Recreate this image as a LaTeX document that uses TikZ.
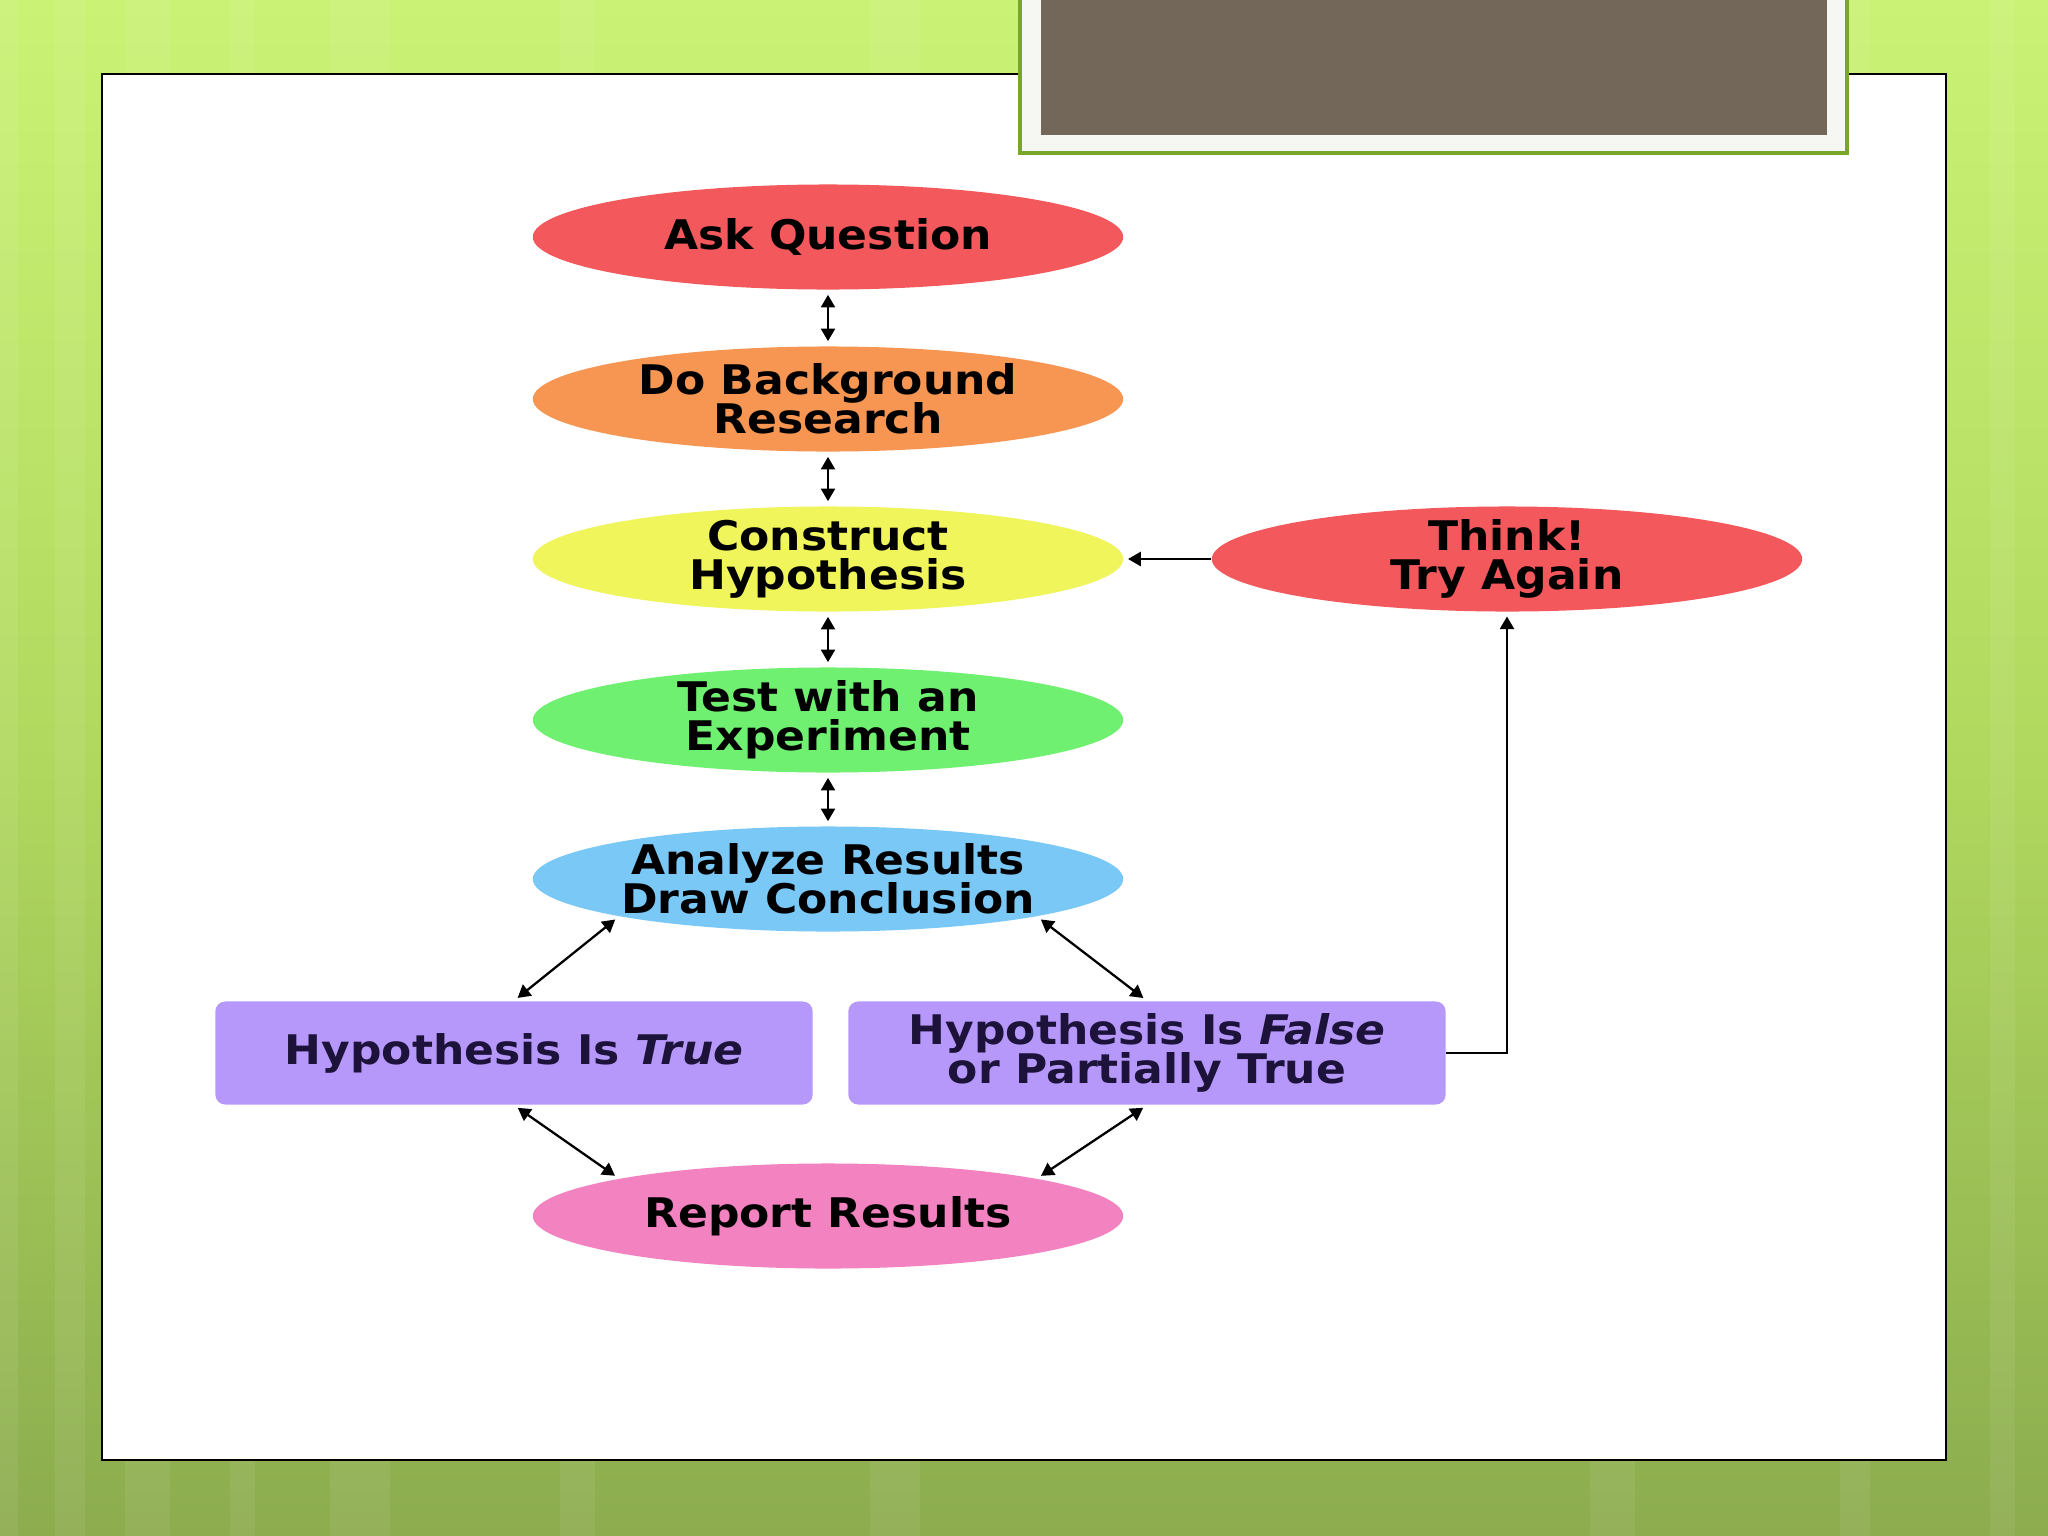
\documentclass[tikz,border=0pt]{standalone}
\usepackage{fontspec}
\setmainfont{DejaVu Sans}[FakeStretch=1.08]
\usepackage{xcolor}
\usepackage{tikz}
\usetikzlibrary{arrows.meta,shapes.geometric,calc}
\setlength{\lineskiplimit}{-20pt}

\definecolor{askred}{RGB}{242,88,92}
\definecolor{bgorange}{RGB}{246,150,82}
\definecolor{hypyellow}{RGB}{240,245,92}
\definecolor{testgreen}{RGB}{112,240,112}
\definecolor{anablue}{RGB}{122,200,246}
\definecolor{reppink}{RGB}{242,130,192}
\definecolor{boxlav}{RGB}{182,152,250}
\definecolor{boxink}{RGB}{28,18,58}
\definecolor{slidebrown}{RGB}{114,103,88}
\definecolor{framegreen}{RGB}{122,166,40}
\definecolor{framepale}{RGB}{246,246,243}
\definecolor{limetop}{RGB}{202,242,116}
\definecolor{limemid}{RGB}{176,216,94}
\definecolor{olivebot}{RGB}{140,172,78}

\begin{document}
\begin{tikzpicture}[x=0.01cm, y=-0.01cm,
    every node/.style={font=\bfseries\fontsize{11.6}{11}\selectfont, align=center, inner sep=0pt},
    oval/.style={ellipse, inner ysep=-3pt, minimum width=5.9cm, minimum height=1.05cm},
    hbox/.style={rectangle, rounded corners=0.1cm, fill=boxlav, text=boxink, minimum width=5.97cm, minimum height=1.03cm},
    link/.style={line width=0.65pt, {Triangle[length=3.6pt,width=4pt]}-{Triangle[length=3.6pt,width=4pt]}, shorten >=1.3pt, shorten <=1.3pt},
    oneway/.style={line width=0.65pt, -{Triangle[length=3.6pt,width=4pt]}, shorten >=1.2pt}]
    \useasboundingbox (0,0) rectangle (2048,1536);
    % slide background
    \shade[top color=limetop, bottom color=olivebot, middle color=limemid] (0,0) rectangle (2048,1536);
    \foreach \sx/\sw in {0/18, 55/30, 125/45, 230/25, 330/60, 560/35, 870/50, 1590/45, 1840/30, 1990/25} {
        \fill[white, opacity=0.07] (\sx,0) rectangle (\sx+\sw,1536);
    }
    \draw[fill=white, line width=0.6pt] (102,74) rectangle (1946,1460);
    % title box
    \draw[fill=framepale, draw=framegreen, line width=0.9pt] (1020,-10) rectangle (1847,153);
    \fill[slidebrown] (1041,0) rectangle (1827,135);

    % steps
    \node[oval, fill=askred] (ask) at (828,237) {Ask Question};
    \node[oval, fill=bgorange] (research) at (828,399) {Do Background\\Research};
    \node[oval, fill=hypyellow] (construct) at (828,559) {Construct\\Hypothesis};
    \node[oval, fill=testgreen] (test) at (828,720) {Test with an\\Experiment};
    \node[oval, fill=anablue] (analyze) at (828,879) {Analyze Results\\Draw Conclusion};
    \node[hbox] (htrue) at (514,1053) {Hypothesis Is \textit{True}};
    \node[hbox] (hfalse) at (1147,1053) {Hypothesis Is \textit{False}\\or Partially True};
    \node[oval, fill=reppink] (report) at (828,1216) {Report Results};
    \node[oval, fill=askred] (think) at (1507,559) {Think!\\Try Again};

    % connectors
    \foreach \a/\b in {ask/research, research/construct, construct/test, test/analyze} {
        \draw[link] (\a.south) -- (\b.north);
    }
    \draw[link] (analyze.south west) -- (htrue.north);
    \draw[link] (analyze.south east) -- (hfalse.north);
    \draw[link] (htrue.south) -- (report.north west);
    \draw[link] (hfalse.south) -- (report.north east);
    \draw[oneway] (hfalse.east) -| (think.south);
    \draw[oneway] (think.west) -- (construct.east);
\end{tikzpicture}
\end{document}
